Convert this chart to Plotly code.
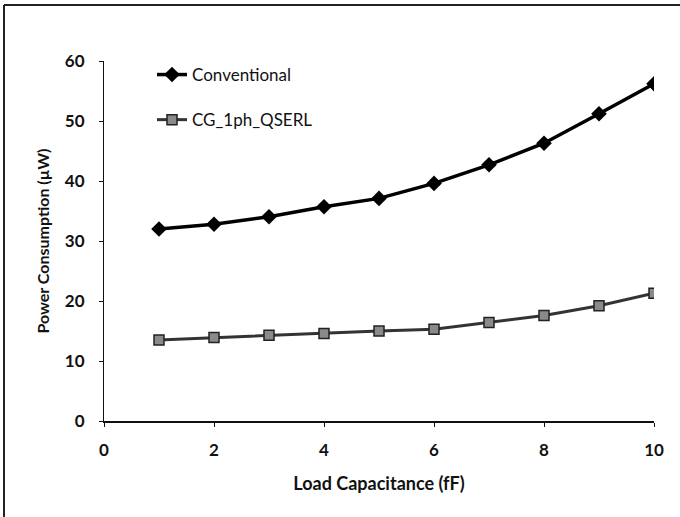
import plotly.graph_objects as go

load_cap = [1, 2, 3, 4, 5, 6, 7, 8, 9, 10]
conventional = [32.0, 32.8, 34.05, 35.7, 37.1, 39.6, 42.7, 46.3, 51.2, 56.2]
cg_1ph_qserl = [13.5, 13.9, 14.3, 14.6, 15.0, 15.3, 16.4, 17.6, 19.2, 21.3]
x_ticks = [0, 2, 4, 6, 8, 10]
y_ticks = [0, 10, 20, 30, 40, 50, 60]

fig = go.Figure()
fig.add_trace(go.Scatter(
    x=load_cap, y=conventional, name="Conventional", mode="lines+markers",
    line=dict(color="#000000", width=3.5),
    marker=dict(symbol="diamond", size=12, color="#000000"),
    legendgroup="a",
))
fig.add_trace(go.Scatter(
    x=load_cap, y=cg_1ph_qserl, name="CG_1ph_QSERL", mode="lines+markers",
    line=dict(color="#333333", width=3),
    marker=dict(symbol="square", size=10, color="#8a8a8a",
                line=dict(color="#222222", width=1.5)),
    legendgroup="b",
))

L, R, T, B = 104, 26, 61, 96
W, H = 680, 517
pw, ph = W - L - R, H - T - B

def px(x):
    return (x - L) / pw

def py(y):
    return (H - B - y) / ph

fig.update_layout(
    width=W, height=H,
    margin=dict(l=L, r=R, t=T, b=B),
    paper_bgcolor="white", plot_bgcolor="white",
    font=dict(family="Lato, 'Open Sans', sans-serif", color="#111111"),
    showlegend=True,
    legend=dict(x=px(152), y=py(57), xanchor="left", yanchor="top",
                font=dict(size=17, color="#111111"),
                tracegroupgap=20, bgcolor="rgba(0,0,0,0)",
                itemwidth=30),
    xaxis=dict(range=[0, 10], tickvals=x_ticks, showgrid=False, zeroline=False,
               showline=True, linecolor="#111111", linewidth=2,
               ticks="outside", ticklen=4, tickcolor="#111111",
               ticklabelstandoff=9,
               tickfont=dict(size=17, weight="bold"),
               title=dict(text="Load Capacitance (fF)", font=dict(size=18, weight="bold"),
                          standoff=18)),
    yaxis=dict(range=[0, 60], tickvals=y_ticks, showgrid=False, zeroline=False,
               showline=True, linecolor="#111111", linewidth=1,
               ticks="outside", ticklen=4, tickcolor="#111111",
               ticklabelstandoff=11,
               tickfont=dict(size=17, weight="bold"),
               title=dict(text="Power Consumption (\u00b5W)", font=dict(size=16, weight="bold"),
                          standoff=11)),
    shapes=[
        dict(type="line", xref="paper", yref="paper", x0=px(4), x1=px(W),
             y0=py(5), y1=py(5), line=dict(color="#222222", width=2)),
        dict(type="line", xref="paper", yref="paper", x0=px(4), x1=px(4),
             y0=py(5), y1=py(H), line=dict(color="#222222", width=2)),
    ],
)

fig.write_html("out.html", config={"displayModeBar": False},
               post_script="document.body.style.margin='0';document.body.style.overflow='hidden';"
                           "document.documentElement.style.overflow='hidden';")
